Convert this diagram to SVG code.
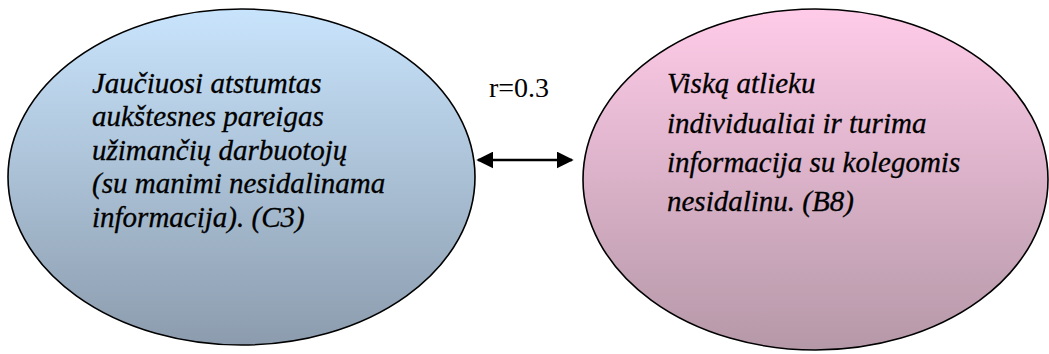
<svg xmlns="http://www.w3.org/2000/svg" width="1049" height="354" viewBox="0 0 1049 354">
  <defs>
    <linearGradient id="gBlue" x1="0" y1="0" x2="0" y2="1">
      <stop offset="0" stop-color="#c8e4fc"/>
      <stop offset="1" stop-color="#8c9cae"/>
    </linearGradient>
    <linearGradient id="gPink" x1="0" y1="0" x2="0" y2="1">
      <stop offset="0" stop-color="#ffcbe8"/>
      <stop offset="1" stop-color="#b598a8"/>
    </linearGradient>
    <marker id="head" viewBox="0 0 10 10" refX="9" refY="5" markerWidth="17" markerHeight="17" markerUnits="userSpaceOnUse" orient="auto-start-reverse">
      <path d="M0,0 L10,5 L0,10 Z" fill="#000"/>
    </marker>
    <style>
      .oval { stroke: #000; stroke-width: 1.6; }
      .lbl { font-family: 'Liberation Serif', 'Times New Roman', serif; font-style: italic; font-size: 29px; fill: #000; stroke: #000; stroke-width: 0.3; }
      .r { font-family: 'Liberation Serif', 'Times New Roman', serif; font-size: 28px; fill: #000; }
      .link { stroke: #000; stroke-width: 2.6; fill: none; }
    </style>
  </defs>

  <rect width="1049" height="354" fill="#fff"/>

  <g id="node-c3">
    <ellipse class="oval" cx="241.5" cy="177" rx="233.5" ry="168" fill="url(#gBlue)"/>
    <text class="lbl">
      <tspan x="92" y="92.5">Jaučiuosi atstumtas</tspan>
      <tspan x="92" y="126">aukštesnes pareigas</tspan>
      <tspan x="92" y="159.5">užimančių darbuotojų</tspan>
      <tspan x="92" y="193">(su manimi nesidalinama</tspan>
      <tspan x="92" y="226.5">informacija). (C3)</tspan>
    </text>
  </g>

  <g id="node-b8">
    <ellipse class="oval" cx="815.5" cy="179.5" rx="232.5" ry="170.5" fill="url(#gPink)"/>
    <text class="lbl">
      <tspan x="667" y="93">Viską atlieku</tspan>
      <tspan x="667" y="132.5">individualiai ir turima</tspan>
      <tspan x="667" y="172">informacija su kolegomis</tspan>
      <tspan x="667" y="210.5">nesidalinu. (B8)</tspan>
    </text>
  </g>

  <g id="connectors">
    <line class="link" x1="478" y1="160" x2="572" y2="160" marker-start="url(#head)" marker-end="url(#head)"/>
    <text class="r" x="489" y="96.7">r=0.3</text>
  </g>
</svg>
